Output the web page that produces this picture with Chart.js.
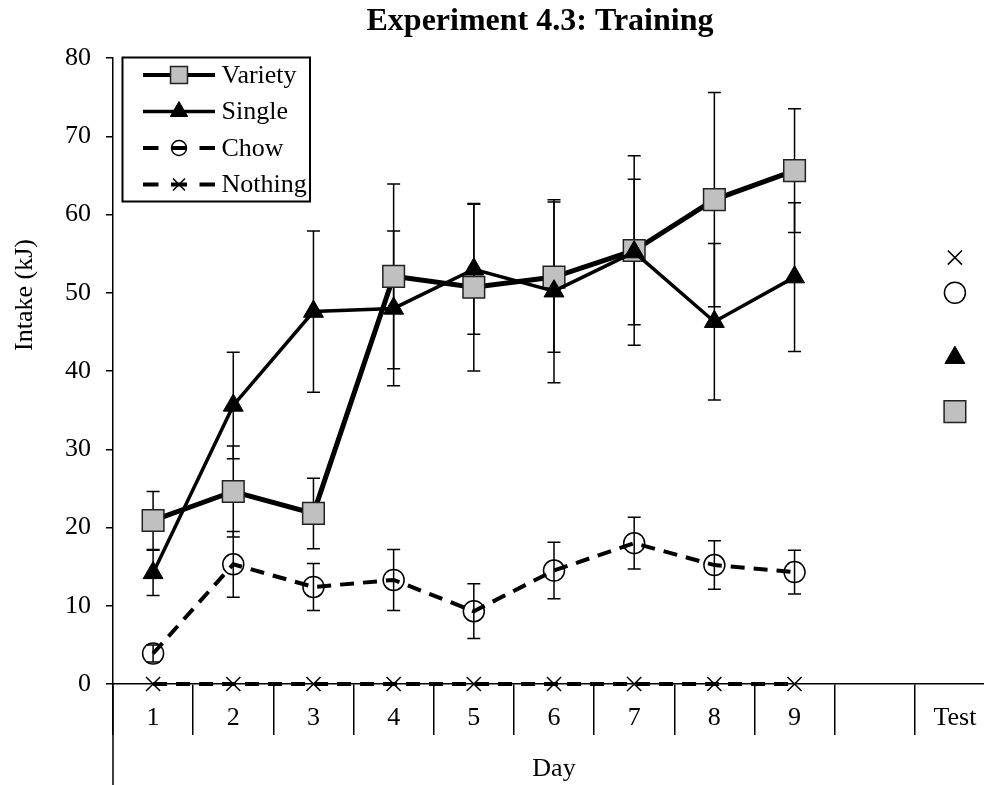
<!DOCTYPE html>
<html>
<head>
<meta charset="utf-8">
<title>Experiment 4.3: Training</title>
<script src="https://cdn.jsdelivr.net/npm/chart.js@4.4.1/dist/chart.umd.min.js"></script>
<style>
  html, body { margin: 0; padding: 0; overflow: hidden; background: #fff; }
  canvas { display: block; }
</style>
</head>
<body>
<canvas id="chart" width="1000" height="785"></canvas>
<script>
// Training days plus the separate test session (index 9 is an empty spacer column)
const days = ['1', '2', '3', '4', '5', '6', '7', '8', '9', '', 'Test'];

// Mean intake (kJ) per group
const variety = [20.9, 24.6, 21.8, 52.1, 50.7, 52.0, 55.4, 61.9, 65.6, null, 34.8];
const single  = [14.2, 35.6, 47.6, 48.0, 53.0, 50.2, 55.2, 46.3, 52.0, null, 41.7];
const chow    = [3.9, 15.3, 12.4, 13.3, 9.3, 14.5, 18.0, 15.2, 14.3, null, 50.0];
const nothing = [0, 0, 0, 0, 0, 0, 0, 0, 0, null, 54.5];

// Standard errors (training days only)
const varietySE = [3.7, 5.8, 4.5, 11.8, 10.7, 9.6, 12.1, 13.7, 7.9, null, null];
const singleSE  = [2.9, 6.8, 10.3, 9.9, 8.3, 11.7, 9.3, 10.0, 9.5, null, null];
const chowSE    = [1.1, 4.2, 3.0, 3.9, 3.5, 3.6, 3.3, 3.1, 2.8, null, null];

// Y axis range
const yMin = 0, yMax = 80, yStep = 10;

const SERIF = "'Liberation Serif', 'Times New Roman', Times, serif";
Chart.defaults.color = '#000';
Chart.defaults.font.family = SERIF;

// white page behind the chart
const background = {
  id: 'background',
  beforeDraw(chart) {
    const { ctx, width, height } = chart;
    ctx.save();
    ctx.fillStyle = '#fff';
    ctx.fillRect(0, 0, width, height);
    ctx.restore();
  }
};

// vertical SE bars with caps, drawn under the markers
const errorBars = {
  id: 'errorBars',
  beforeDatasetsDraw(chart) {
    const { ctx } = chart;
    const y = chart.scales.y;
    ctx.save();
    ctx.strokeStyle = '#000';
    ctx.lineWidth = 1.5;
    ctx.setLineDash([]);
    chart.data.datasets.forEach((ds, di) => {
      if (!ds.errors) return;
      const meta = chart.getDatasetMeta(di);
      ds.errors.forEach((e, i) => {
        const v = ds.data[i];
        if (e == null || v == null) return;
        const x = meta.data[i].x;
        const top = y.getPixelForValue(v + e);
        const bot = y.getPixelForValue(v - e);
        ctx.beginPath();
        ctx.moveTo(x, top); ctx.lineTo(x, bot);
        ctx.moveTo(x - 6.5, top); ctx.lineTo(x + 6.5, top);
        ctx.moveTo(x - 6.5, bot); ctx.lineTo(x + 6.5, bot);
        ctx.stroke();
      });
    });
    ctx.restore();
  }
};

function drawMarker(ctx, style, x, y, r, fill, stroke, lw) {
  ctx.save();
  ctx.setLineDash([]);
  ctx.lineWidth = lw;
  ctx.fillStyle = fill;
  ctx.strokeStyle = stroke;
  ctx.beginPath();
  if (style === 'rect') {
    const s = r * Math.SQRT1_2;
    ctx.rect(x - s, y - s, 2 * s, 2 * s);
    ctx.fill(); ctx.stroke();
  } else if (style === 'triangle') {
    ctx.moveTo(x, y - r);
    ctx.lineTo(x + 0.866 * r, y + 0.5 * r);
    ctx.lineTo(x - 0.866 * r, y + 0.5 * r);
    ctx.closePath();
    ctx.fill(); ctx.stroke();
  } else if (style === 'circle') {
    ctx.arc(x, y, r, 0, Math.PI * 2);
    ctx.stroke();
  } else if (style === 'crossRot') {
    const d = r * Math.SQRT1_2;
    ctx.moveTo(x - d, y - d); ctx.lineTo(x + d, y + d);
    ctx.moveTo(x - d, y + d); ctx.lineTo(x + d, y - d);
    ctx.stroke();
  }
  ctx.restore();
}

// boxed legend in the top-left corner of the plot, line sample with marker
const boxLegend = {
  id: 'boxLegend',
  afterDatasetsDraw(chart) {
    const { ctx } = chart;
    const left = chart.chartArea.left + 9.5, top = chart.chartArea.top - 0.5;
    const w = 187.5, h = 144;
    ctx.save();
    ctx.fillStyle = '#fff';
    ctx.fillRect(left, top, w, h);
    ctx.lineWidth = 2;
    ctx.strokeStyle = '#000';
    ctx.strokeRect(left, top, w, h);
    const x0 = left + 20.5, x1 = left + 92.5, xm = (x0 + x1) / 2;
    const sizes = { rect: 12, triangle: 10, circle: 7.5, crossRot: 8.5 };
    chart.data.datasets.forEach((ds, i) => {
      const ry = top + 17.5 + i * 36.5;
      ctx.strokeStyle = '#000';
      ctx.lineWidth = Math.min(ds.borderWidth, 4);
      ctx.lineCap = 'butt';
      ctx.beginPath();
      if (ds.borderDash && ds.borderDash.length) {
        ctx.moveTo(x0, ry); ctx.lineTo(x0 + 15.5, ry);
        ctx.moveTo(xm - 8, ry); ctx.lineTo(xm + 8, ry);
        ctx.moveTo(x1 - 15.5, ry); ctx.lineTo(x1, ry);
      } else {
        ctx.moveTo(x0, ry); ctx.lineTo(x1, ry);
      }
      ctx.stroke();
      drawMarker(ctx, ds.pointStyle, xm, ry, sizes[ds.pointStyle],
        ds.pointBackgroundColor, ds.pointBorderColor, ds.pointBorderWidth);
      ctx.fillStyle = '#000';
      ctx.font = '26px ' + SERIF;
      ctx.textAlign = 'left';
      ctx.textBaseline = 'middle';
      ctx.fillText(ds.label, x1 + 6.5, ry + 1);
    });
    ctx.restore();
  }
};

// chart title, y axis title and the outer category divider down the left edge
const axisExtras = {
  id: 'axisExtras',
  afterDraw(chart) {
    const { ctx, chartArea } = chart;
    ctx.save();
    ctx.strokeStyle = '#000';
    ctx.lineWidth = 1.5;
    ctx.beginPath();
    ctx.moveTo(chartArea.left, chartArea.bottom);
    ctx.lineTo(chartArea.left, chart.height);
    ctx.stroke();

    ctx.fillStyle = '#000';
    ctx.font = 'bold 32px ' + SERIF;
    ctx.textAlign = 'center';
    ctx.textBaseline = 'alphabetic';
    ctx.fillText('Experiment 4.3: Training', 540, 30);

    ctx.translate(25, 295);
    ctx.rotate(-Math.PI / 2);
    ctx.font = '26px ' + SERIF;
    ctx.textBaseline = 'middle';
    ctx.fillText('Intake (kJ)', 0, 0);
    ctx.restore();
  }
};

new Chart(document.getElementById('chart'), {
  type: 'line',
  data: {
    labels: days,
    datasets: [
      {
        label: 'Variety', data: variety, errors: varietySE, order: 4,
        borderColor: '#000', borderWidth: 5,
        pointStyle: 'rect', pointRadius: 15.3,
        pointBackgroundColor: '#c0c0c0', pointBorderColor: '#222', pointBorderWidth: 1.5
      },
      {
        label: 'Single', data: single, errors: singleSE, order: 3,
        borderColor: '#000', borderWidth: 3.5,
        pointStyle: 'triangle', pointRadius: 11.5,
        pointBackgroundColor: '#000', pointBorderColor: '#000', pointBorderWidth: 1
      },
      {
        label: 'Chow', data: chow, errors: chowSE, order: 2,
        borderColor: '#000', borderWidth: 4, borderDash: [14, 9],
        pointStyle: 'circle', pointRadius: 10.5,
        pointBackgroundColor: 'rgba(0,0,0,0)', pointBorderColor: '#000', pointBorderWidth: 1.5
      },
      {
        label: 'Nothing', data: nothing, order: 1,
        borderColor: '#000', borderWidth: 4, borderDash: [14, 9],
        pointStyle: 'crossRot', pointRadius: 10,
        pointBackgroundColor: 'rgba(0,0,0,0)', pointBorderColor: '#000', pointBorderWidth: 1.5
      }
    ]
  },
  options: {
    responsive: false,
    animation: false,
    devicePixelRatio: 1,
    events: [],
    spanGaps: false,
    elements: { line: { tension: 0, borderCapStyle: 'butt' } },
    datasets: { line: { clip: false } },
    layout: { autoPadding: false, padding: { left: 0, right: 5, top: 58, bottom: 0 } },
    plugins: {
      legend: { display: false },
      tooltip: { enabled: false },
      title: { display: false }
    },
    scales: {
      x: {
        type: 'category',
        offset: true,
        afterFit(s) { s.height = 101; },
        border: { display: true, color: '#000', width: 1.5 },
        grid: {
          offset: true, drawOnChartArea: false, drawTicks: true,
          tickLength: 51, color: '#000', lineWidth: 1.5
        },
        ticks: {
          autoSkip: false, maxRotation: 0, padding: -32,
          color: '#000', font: { family: SERIF, size: 26 }
        },
        title: {
          display: true, text: 'Day', color: '#000',
          font: { family: SERIF, size: 26 }, padding: { top: 0, bottom: 0 }
        }
      },
      y: {
        min: yMin, max: yMax,
        afterFit(s) { s.width = 113; },
        border: { display: true, color: '#000', width: 1.5 },
        grid: {
          drawOnChartArea: false, drawTicks: true,
          tickLength: 7, color: '#000', lineWidth: 1.5
        },
        ticks: {
          stepSize: yStep, padding: 15,
          color: '#000', font: { family: SERIF, size: 26 }
        }
      }
    }
  },
  plugins: [background, errorBars, boxLegend, axisExtras]
});
</script>
</body>
</html>
